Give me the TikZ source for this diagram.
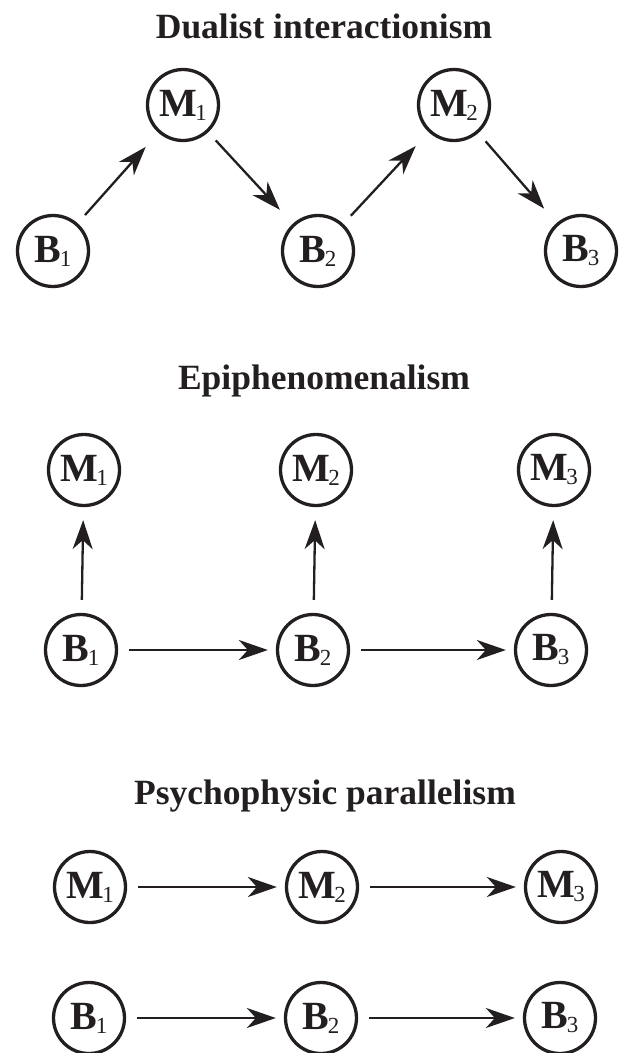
\documentclass[tikz,border=0pt]{standalone}
\usepackage{fontspec}
\setmainfont{Liberation Serif}
\usetikzlibrary{arrows.meta}
\definecolor{ink}{HTML}{231F20}
\tikzset{
  st/.style={circle, draw=ink, text=ink, line width=3.3pt, minimum size=71pt, inner sep=0pt},
  ttl/.style={anchor=base, text=ink, font=\fontsize{35.5}{40}\selectfont\bfseries},
  arr/.style={draw=ink, line width=2.3pt, -{Stealth[length=29pt,width=20pt,inset=9pt]}},
  diag/.style={arr, shorten <=11pt, shorten >=19pt},
  vert/.style={arr, shorten <=13pt, shorten >=13pt},
  hor/.style={arr, shorten <=11pt, shorten >=8pt},
}
\newcommand{\lbl}[2]{{\fontsize{40}{40}\selectfont\bfseries #1}\kern-1.5pt\raisebox{-4pt}{\fontsize{23}{23}\selectfont #2}}
\begin{document}
\begin{tikzpicture}[x=1pt,y=-1pt]
\useasboundingbox (0,0) rectangle (619,1053);
% Dualist interactionism
\node[ttl] (t1) at (324,38) {Dualist interactionism};
\node[st] (a1) at (53,251) {\lbl{B}{1}};
\node[st] (a2) at (183,105) {\lbl{M}{1}};
\node[st] (a3) at (318,251) {\lbl{B}{2}};
\node[st] (a4) at (454,105) {\lbl{M}{2}};
\node[st] (a5) at (581,251) {\lbl{B}{3}};
\draw[diag] (a1) -- (a2);
\draw[diag] (a2) -- (a3);
\draw[diag] (a3) -- (a4);
\draw[diag] (a4) -- (a5);
% Epiphenomenalism
\node[ttl] (t2) at (324,389) {Epiphenomenalism};
\node[st] (em1) at (84,470) {\lbl{M}{1}};
\node[st] (em2) at (316,470) {\lbl{M}{2}};
\node[st] (em3) at (554,470) {\lbl{M}{3}};
\node[st] (eb1) at (81,650) {\lbl{B}{1}};
\node[st] (eb2) at (313,650) {\lbl{B}{2}};
\node[st] (eb3) at (551,650) {\lbl{B}{3}};
\draw[vert] (eb1) -- (em1);
\draw[vert] (eb2) -- (em2);
\draw[vert] (eb3) -- (em3);
\draw[hor] (eb1) -- (eb2);
\draw[hor] (eb2) -- (eb3);
% Psychophysic parallelism
\node[ttl] (t3) at (325,804) {Psychophysic parallelism};
\node[st] (pm1) at (90,887) {\lbl{M}{1}};
\node[st] (pm2) at (322,887) {\lbl{M}{2}};
\node[st] (pm3) at (561,887) {\lbl{M}{3}};
\node[st] (pb1) at (89,1018) {\lbl{B}{1}};
\node[st] (pb2) at (321,1018) {\lbl{B}{2}};
\node[st] (pb3) at (560,1018) {\lbl{B}{3}};
\draw[hor] (pm1) -- (pm2);
\draw[hor] (pm2) -- (pm3);
\draw[hor] (pb1) -- (pb2);
\draw[hor] (pb2) -- (pb3);
\end{tikzpicture}
\end{document}
